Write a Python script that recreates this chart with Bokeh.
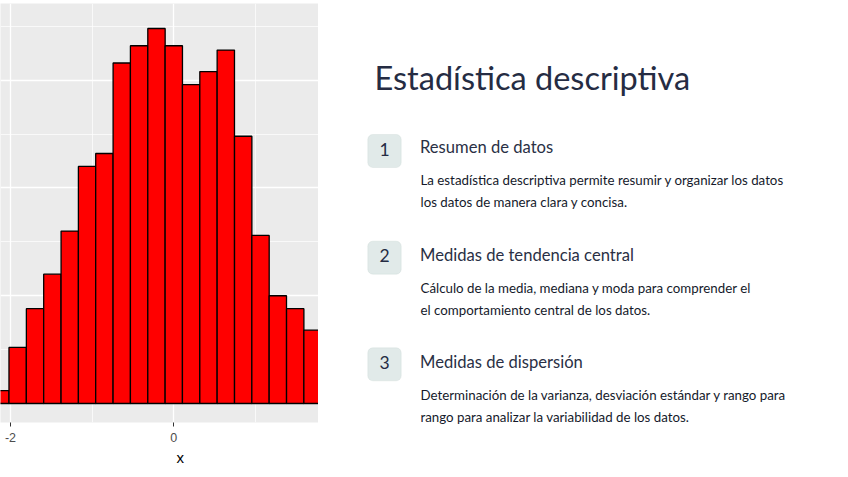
from bokeh.plotting import figure
from bokeh.layouts import row, column
from bokeh.models import Range1d, FixedTicker, Title, BoxAnnotation, Label
from bokeh.embed import file_html
from bokeh.resources import INLINE

# ---------------- data ----------------
bin_centers = [-2.124, -1.912, -1.699, -1.487, -1.274, -1.062, -0.850, -0.637, -0.425, -0.212,
               0.000, 0.212, 0.425, 0.637, 0.850, 1.062, 1.274, 1.487, 1.699]
counts = [3, 13, 22, 30, 40, 55, 58, 79, 83, 87, 83, 74, 77, 82, 62, 39, 25, 22, 17]
bin_width = 0.2124
x_ticks = [-2, 0, 2]
x_tick_labels = ["-2", "0", "2"]
x_minor = [-1, 1]
y_ticks = [0, 25, 50, 75]
y_minor = [12.5, 37.5, 62.5, 87.5]

title_text = "Estadística descriptiva"
numbers = ["1", "2", "3"]
headings = ["Resumen de datos", "Medidas de tendencia central", "Medidas de dispersión"]
body_lines = [
    ["La estadística descriptiva permite resumir y organizar los datos",
     "los datos de manera clara y concisa."],
    ["Cálculo de la media, mediana y moda para comprender el",
     "el comportamiento central de los datos."],
    ["Determinación de la varianza, desviación estándar y rango para",
     "rango para analizar la variabilidad de los datos."],
]

TOP, BOTTOM = 3, 55
H = 477

# ---------------- histogram ----------------
p = figure(width=318, height=H, output_backend="svg", toolbar_location=None,
           x_range=Range1d(-2.122, 1.772), y_range=Range1d(-4.41, 92.8),
           y_axis_location=None, min_border_left=0, min_border_right=0,
           min_border_top=TOP, min_border_bottom=BOTTOM)
p.background_fill_color = "#EBEBEB"
p.border_fill_color = "white"
p.outline_line_color = None

lefts = [c - bin_width / 2 for c in bin_centers]
rights = [c + bin_width / 2 for c in bin_centers]
p.quad(left=lefts, right=rights, bottom=0, top=counts,
       fill_color="#FF0000", line_color="black", line_width=1.3)

p.xaxis.ticker = FixedTicker(ticks=x_ticks, minor_ticks=x_minor)
p.xaxis.major_label_overrides = {tk: lb for tk, lb in zip(x_ticks, x_tick_labels)}
p.xgrid.ticker = FixedTicker(ticks=x_ticks, minor_ticks=x_minor)
p.ygrid.ticker = FixedTicker(ticks=y_ticks, minor_ticks=y_minor)
for g in (p.xgrid, p.ygrid):
    g.grid_line_color = "white"
    g.grid_line_width = 1.3
    g.minor_grid_line_color = "white"
    g.minor_grid_line_width = 0.7
    g.level = "underlay"
p.xaxis.axis_line_color = None
p.xaxis.major_tick_line_color = "#333333"
p.xaxis.major_tick_out = 4
p.xaxis.major_tick_in = 0
p.xaxis.minor_tick_line_color = None
p.xaxis.major_label_standoff = 6
p.xaxis.major_label_text_font = "Liberation Sans"
p.xaxis.major_label_text_font_size = "12.5px"
p.xaxis.major_label_text_color = "#4D4D4D"
p.add_layout(Title(text="x", align="left", offset=176, text_font="Liberation Sans",
                   text_font_size="15px", text_font_style="normal", text_color="black",
                   standoff=5), "below")

# ---------------- text panel (data units = page pixels) ----------------
t = figure(width=530, height=H, output_backend="svg", toolbar_location=None,
           x_range=Range1d(318, 848), y_range=Range1d(H, TOP),
           x_axis_location=None, y_axis_location=None,
           min_border_left=0, min_border_right=0,
           min_border_top=TOP, min_border_bottom=0)
t.outline_line_color = None
t.xgrid.visible = False
t.ygrid.visible = False
t.background_fill_color = "white"
t.border_fill_color = "white"

FONT = "Lato"
t.add_layout(Label(x=374, y=76.5, text=title_text, text_font=FONT, text_font_size="32.5px",
                   text_color="#252C43", text_baseline="alphabetic"))

box_top = [134.0, 240.7, 347.3]
head_y = [146.0, 254.0, 361.3]
for i in range(3):
    t.add_layout(BoxAnnotation(left=367.3, right=400.7, top=box_top[i], bottom=box_top[i] + 33,
                               border_radius=5, fill_color="#E1EAE9", fill_alpha=1,
                               line_color="#C8D3D1", line_width=1, level="underlay"))
    t.add_layout(Label(x=384, y=box_top[i] + 14.5, text=numbers[i], text_font=FONT,
                       text_font_size="17.5px", text_color="#252C43", text_align="center",
                       text_baseline="middle"))
    t.add_layout(Label(x=419.5, y=head_y[i], text=headings[i], text_font=FONT,
                       text_font_size="16.6px", text_color="#2A3045",
                       text_baseline="alphabetic"))
    for j, line in enumerate(body_lines[i]):
        t.add_layout(Label(x=420, y=head_y[i] + 33.3 + j * 21.7, text=line, text_font=FONT,
                           text_font_size="13.3px", text_color="#151A2B",
                           text_baseline="alphabetic"))

layout = row(p, column(t))
open("out.html", "w").write(file_html(layout, INLINE))
